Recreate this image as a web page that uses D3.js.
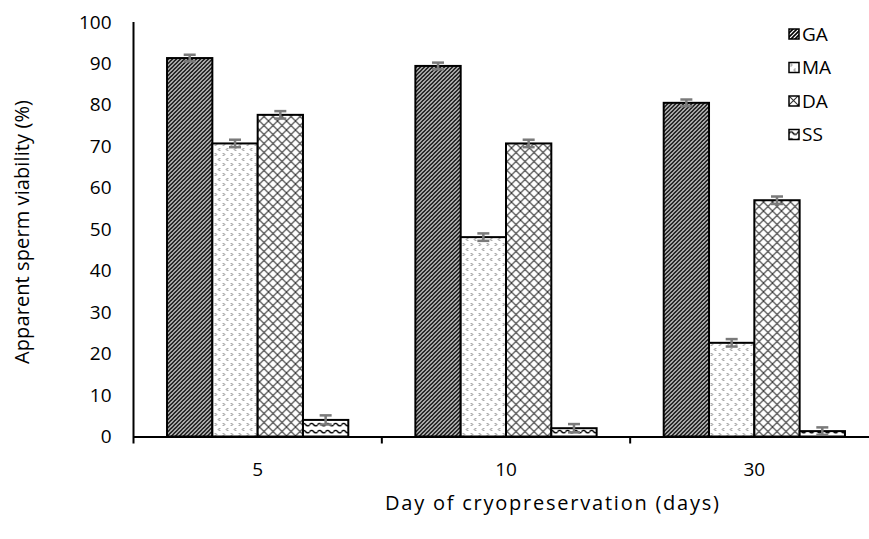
<!DOCTYPE html>
<html>
<head>
<meta charset="utf-8">
<script src="https://cdn.jsdelivr.net/npm/d3@7"></script>
<style>
  body { margin: 0; background: #fff; }
  text { font-family: "Open Sans", sans-serif; fill: #000; }
</style>
</head>
<body>
<svg id="chart" width="869" height="539"></svg>
<script>
// data
var days = ["5", "10", "30"];
var series = ["GA", "MA", "DA", "SS"];
var GA = [91.3, 89.4, 80.5];
var MA = [70.7, 48.1, 22.6];
var DA = [77.6, 70.7, 57.0];
var SS = [4.0, 2.0, 1.3];
var errGA = [0.8, 0.8, 0.8];
var errMA = [0.9, 0.9, 0.9];
var errDA = [0.9, 0.9, 0.9];
var errSS = [1.1, 1.0, 0.9];
var yTicks = [0, 10, 20, 30, 40, 50, 60, 70, 80, 90, 100];

var values = { GA: GA, MA: MA, DA: DA, SS: SS };
var errs = { GA: errGA, MA: errMA, DA: errDA, SS: errSS };

var margin = {top: 22, left: 133.5, bottom: 102.5},
    h = 539 - margin.top - margin.bottom,
    w = 745;

var svg = d3.select("#chart");
var defs = svg.append("defs");

// hatch patterns (Excel-like)
var pGA = defs.append("pattern").attr("id", "pGA")
    .attr("patternUnits", "userSpaceOnUse").attr("width", 4).attr("height", 4);
pGA.append("rect").attr("width", 4).attr("height", 4).attr("fill", "#fff");
pGA.append("path").attr("d", "M-1,1 L1,-1 M0,4 L4,0 M3,5 L5,3")
    .attr("stroke", "#000").attr("stroke-width", 1.6);

var pMA = defs.append("pattern").attr("id", "pMA")
    .attr("patternUnits", "userSpaceOnUse").attr("width", 8).attr("height", 10);
pMA.append("rect").attr("width", 8).attr("height", 10).attr("fill", "#fff");
pMA.append("path").attr("d", "M1.5,1 L3,2.5 L1.5,4 M6.5,6 L5,7.5 L6.5,9")
    .attr("stroke", "#444").attr("stroke-width", 0.9).attr("fill", "none");

var pDA = defs.append("pattern").attr("id", "pDA")
    .attr("patternUnits", "userSpaceOnUse").attr("width", 9).attr("height", 9);
pDA.append("rect").attr("width", 9).attr("height", 9).attr("fill", "#fff");
pDA.append("path").attr("d", "M0,0 L9,9 M9,0 L0,9")
    .attr("stroke", "#333").attr("stroke-width", 1.1);

var pSS = defs.append("pattern").attr("id", "pSS")
    .attr("patternUnits", "userSpaceOnUse").attr("width", 8).attr("height", 7);
pSS.append("rect").attr("width", 8).attr("height", 7).attr("fill", "#fff");
pSS.append("path").attr("d", "M0,4 Q2,1 4,3.5 T8,4")
    .attr("stroke", "#000").attr("stroke-width", 1.4).attr("fill", "none");

var fills = { GA: "url(#pGA)", MA: "url(#pMA)", DA: "url(#pDA)", SS: "url(#pSS)" };

var g = svg.append("g")
    .attr("transform", "translate(" + margin.left + "," + margin.top + ")");

var xScale = d3.scaleBand().domain(days).range([0, w]);
var x1 = d3.scaleBand().domain(series)
    .range([0, xScale.bandwidth()]).paddingOuter(0.74);
var yScale = d3.scaleLinear().domain([0, 100]).range([h, 0]);

// y axis tick labels
var yAxis = d3.axisLeft(yScale).tickValues(yTicks).tickSize(0).tickPadding(22);
var ya = g.append("g").call(yAxis);
ya.select(".domain").remove();
ya.selectAll("text").style("font-size", "19px").attr("font-family", null);

// bars
var rows = [];
days.forEach(function(d, i) {
  series.forEach(function(s) {
    rows.push({day: d, s: s, v: values[s][i], e: errs[s][i]});
  });
});

g.selectAll("rect.bar")
  .data(rows)
  .enter()
  .append("rect")
  .attr("class", "bar")
  .attr("x", function(d) { return xScale(d.day) + x1(d.s); })
  .attr("y", function(d) { return yScale(d.v); })
  .attr("width", x1.bandwidth())
  .attr("height", function(d) { return h - yScale(d.v); })
  .attr("fill", function(d) { return fills[d.s]; })
  .attr("stroke", "#000")
  .attr("stroke-width", 2);

// error bars
var eb = g.selectAll("g.err").data(rows).enter().append("g").attr("class", "err")
  .attr("stroke", "#7a7a7a").attr("stroke-width", 2.5);
eb.append("line")
  .attr("x1", function(d) { return xScale(d.day) + x1(d.s) + x1.bandwidth() / 2; })
  .attr("x2", function(d) { return xScale(d.day) + x1(d.s) + x1.bandwidth() / 2; })
  .attr("y1", function(d) { return yScale(d.v - d.e); })
  .attr("y2", function(d) { return yScale(d.v + d.e); });
[-1, 1].forEach(function(k) {
  eb.append("line")
    .attr("x1", function(d) { return xScale(d.day) + x1(d.s) + x1.bandwidth() / 2 - 6; })
    .attr("x2", function(d) { return xScale(d.day) + x1(d.s) + x1.bandwidth() / 2 + 6; })
    .attr("y1", function(d) { return yScale(d.v + k * d.e); })
    .attr("y2", function(d) { return yScale(d.v + k * d.e); });
});

// y axis line
g.append("line")
  .attr("x1", 0).attr("x2", 0)
  .attr("y1", yScale(100)).attr("y2", h + 7)
  .attr("stroke", "#000").attr("stroke-width", 2);

// x axis
var xAxis = d3.axisBottom(xScale).tickSize(0).tickPadding(26);
var xa = g.append("g").attr("transform", "translate(0," + h + ")").call(xAxis);
xa.select(".domain").attr("stroke-width", 2);
xa.selectAll("text").style("font-size", "19px").attr("font-family", null);

// boundary ticks between categories
g.selectAll("line.btick")
  .data(days.slice(1).concat(["end"]))
  .enter()
  .append("line")
  .attr("class", "btick")
  .attr("x1", function(d, i) { return xScale.step() * (i + 1); })
  .attr("x2", function(d, i) { return xScale.step() * (i + 1); })
  .attr("y1", h).attr("y2", h + 7)
  .attr("stroke", "#000").attr("stroke-width", 2);

// axis titles
svg.append("text")
  .attr("x", 552).attr("y", 510)
  .attr("text-anchor", "middle")
  .attr("textLength", 334).attr("lengthAdjust", "spacing")
  .style("font-size", "20px")
  .text("Day of cryopreservation (days)");

svg.append("text")
  .attr("text-anchor", "middle")
  .attr("textLength", 264).attr("lengthAdjust", "spacing")
  .attr("transform", "translate(29,232)rotate(-90)")
  .style("font-size", "20px")
  .text("Apparent sperm viability (%)");

// legend
var legend = svg.selectAll("g.leg").data(series).enter().append("g")
  .attr("class", "leg")
  .attr("transform", function(d, i) { return "translate(789," + (29 + i * 33.5) + ")"; });
legend.append("rect")
  .attr("width", 10).attr("height", 10)
  .attr("fill", function(d) { return fills[d]; })
  .attr("stroke", "#000").attr("stroke-width", 1.5);
legend.append("text")
  .attr("x", 13).attr("y", 5).attr("dy", "0.36em")
  .style("font-size", "19px")
  .text(function(d) { return d; });
</script>
</body>
</html>
